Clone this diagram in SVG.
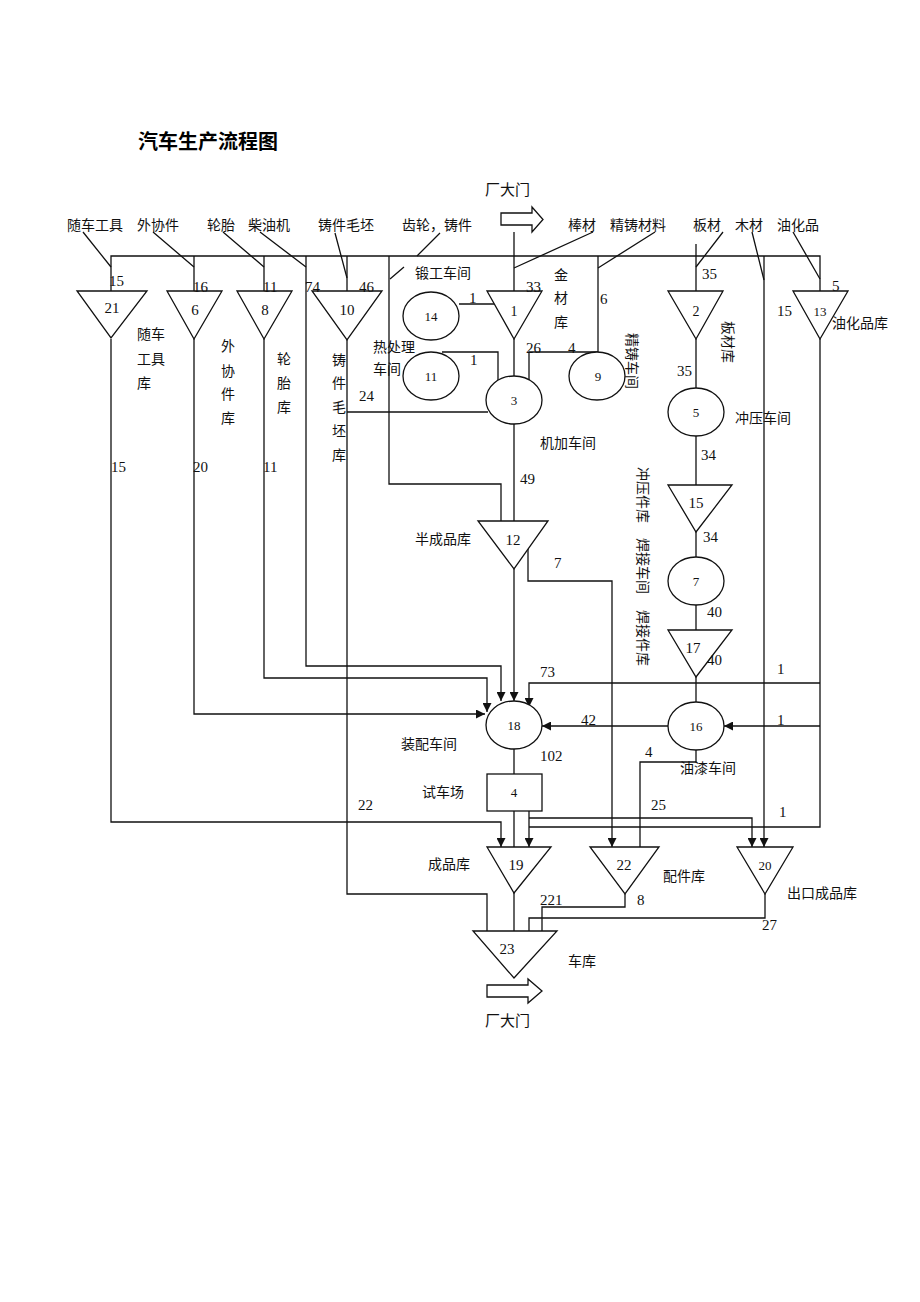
<svg xmlns="http://www.w3.org/2000/svg" width="920" height="1302" viewBox="0 0 920 1302">
<defs>
<style>
.ln{fill:none;stroke:#111;stroke-width:1.3}
.sh{fill:#fff;stroke:#111;stroke-width:1.3}
.t{font-family:"Liberation Serif","Noto Sans CJK SC",serif;font-size:14px;fill:#111}
.n{font-family:"Liberation Serif",serif;font-size:15px;fill:#111}
.c{text-anchor:middle}
.s{font-size:13px}
.title{font-family:"Liberation Serif","Noto Sans CJK SC",serif;font-size:20px;font-weight:bold;fill:#000}
</style>
<marker id="ar" viewBox="0 0 10 10" refX="10" refY="5" markerWidth="9" markerHeight="9" markerUnits="userSpaceOnUse" orient="auto"><path d="M0 0L10 5L0 10z" fill="#111"/></marker>
</defs>
<rect width="920" height="1302" fill="#fff"/>
<text class="title" x="138" y="149">汽车生产流程图</text>

<g id="connectors">
<path class="ln" d="M111 291V256H820V291"/>
<path class="ln" d="M194 256V291M264 256V291M347 256V291M514 232V291M696 244V291"/>
<path class="ln" d="M83 232L111 267M153 232L194 267M223 232L264 267M260 232L306 267M335 233L347 278M440 233L417 256M404 267L390 279M593 232L514 268M655 232L598 268M723 232L696 267M752 232L764 280M793 232L820 279"/>
<path class="ln" d="M111 339V822H501V847" marker-end="url(#ar)"/>
<path class="ln" d="M194 339V714H485" marker-end="url(#ar)"/>
<path class="ln" d="M264 339V678H487V712" marker-end="url(#ar)"/>
<path class="ln" d="M306 256V666H501V701" marker-end="url(#ar)"/>
<path class="ln" d="M347 339V894H487V931"/>
<path class="ln" d="M389 256V484H501V521"/>
<path class="ln" d="M459 304H494"/>
<path class="ln" d="M442 352H498V380"/>
<path class="ln" d="M529 380V352H598"/>
<path class="ln" d="M598 256V352"/>
<path class="ln" d="M347 412H488"/>
<path class="ln" d="M514 339V376M514 424V521"/>
<path class="ln" d="M514 569V701" marker-end="url(#ar)"/>
<path class="ln" d="M528 549V581H612V847" marker-end="url(#ar)"/>
<path class="ln" d="M696 339V388M696 436V485M696 532V557M696 605V630M696 677V702"/>
<path class="ln" d="M764 256V847" marker-end="url(#ar)"/>
<path class="ln" d="M820 339V827H529"/>
<path class="ln" d="M820 683H529V707" marker-end="url(#ar)"/>
<path class="ln" d="M820 726H724" marker-end="url(#ar)"/>
<path class="ln" d="M668 726H542" marker-end="url(#ar)"/>
<path class="ln" d="M696 750V762H640V847"/>
<path class="ln" d="M514 749V774M514 811V847"/>
<path class="ln" d="M529 811V847" marker-end="url(#ar)"/>
<path class="ln" d="M529 818H752V847" marker-end="url(#ar)"/>
<path class="ln" d="M625 894V907H542V931"/>
<path class="ln" d="M765 894V918H529V931"/>
<path class="ln" d="M514 893V931"/>
<path class="sh" d="M501 213H532V207L543 219.5L532 232V225H501Z"/>
<path class="sh" d="M487 985H528V979L542 991L528 1003V997H487Z"/>
</g>

<g id="n21"><polygon class="sh" points="77,291 147,291 111,338"/><text class="n c" x="112" y="313">21</text></g>
<g id="n6"><polygon class="sh" points="167,291 222,291 194,339"/><text class="n c" x="195" y="315">6</text></g>
<g id="n8"><polygon class="sh" points="237,291 292,291 264,339"/><text class="n c" x="265" y="315">8</text></g>
<g id="n10"><polygon class="sh" points="312,291 382,291 347,340"/><text class="n c" x="347" y="315">10</text></g>
<g id="n1"><polygon class="sh" points="487,291 542,291 514,339"/><text class="n c" x="514" y="316" style="font-size:14px">1</text></g>
<g id="n2"><polygon class="sh" points="668,291 723,291 696,339"/><text class="n c" x="696" y="316" style="font-size:14px">2</text></g>
<g id="n13"><polygon class="sh" points="793,291 848,291 820,339"/><text class="n c s" x="820" y="316">13</text></g>
<g id="n14"><ellipse class="sh" cx="431" cy="316" rx="28" ry="24"/><text class="n c s" x="431" y="321">14</text></g>
<g id="n11"><ellipse class="sh" cx="431" cy="376" rx="28" ry="24"/><text class="n c s" x="431" y="381">11</text></g>
<g id="n3"><ellipse class="sh" cx="514" cy="400" rx="28" ry="24"/><text class="n c s" x="514" y="405">3</text></g>
<g id="n9"><ellipse class="sh" cx="597" cy="376" rx="28" ry="24"/><text class="n c s" x="598" y="381">9</text></g>
<g id="n5"><ellipse class="sh" cx="696" cy="412" rx="28" ry="24"/><text class="n c s" x="696" y="417">5</text></g>
<g id="n15"><polygon class="sh" points="668,485 732,485 696,532"/><text class="n c" x="696" y="508">15</text></g>
<g id="n7"><ellipse class="sh" cx="696" cy="581" rx="28" ry="24"/><text class="n c s" x="696" y="586">7</text></g>
<g id="n17"><polygon class="sh" points="668,630 732,630 696,677"/><text class="n c" x="693" y="653">17</text></g>
<g id="n16"><ellipse class="sh" cx="696" cy="726" rx="28" ry="24"/><text class="n c s" x="696" y="731">16</text></g>
<g id="n12"><polygon class="sh" points="478,521 548,521 514,569"/><text class="n c" x="513" y="545">12</text></g>
<g id="n18"><ellipse class="sh" cx="514" cy="725" rx="28" ry="24"/><text class="n c s" x="514" y="730">18</text></g>
<g id="n4"><rect class="sh" x="487" y="774" width="55" height="37"/><text class="n c s" x="514" y="797">4</text></g>
<g id="n19"><polygon class="sh" points="487,847 551,847 514,893"/><text class="n c" x="516" y="870">19</text></g>
<g id="n22"><polygon class="sh" points="590,847 659,847 625,894"/><text class="n c" x="624" y="870">22</text></g>
<g id="n20"><polygon class="sh" points="737,847 793,847 765,894"/><text class="n c s" x="765" y="870">20</text></g>
<g id="n23"><polygon class="sh" points="473,931 557,931 514,978"/><text class="n c" x="507" y="954">23</text></g>

<g id="labels">
<text class="t" x="67" y="230">随车工具</text>
<text class="t" x="137" y="230">外协件</text>
<text class="t" x="207" y="230">轮胎</text>
<text class="t" x="248" y="230">柴油机</text>
<text class="t" x="318" y="230">铸件毛坯</text>
<text class="t" x="402" y="230">齿轮，铸件</text>
<text class="t" x="568" y="230">棒材</text>
<text class="t" x="610" y="230">精铸材料</text>
<text class="t" x="693" y="230">板材</text>
<text class="t" x="735" y="230">木材</text>
<text class="t" x="777" y="230">油化品</text>
<text class="t" x="485" y="195" style="font-size:15px">厂大门</text>
<text class="t" x="485" y="1026" style="font-size:15px">厂大门</text>

<text class="t" x="137" y="339">随车</text>
<text class="t" x="137" y="364">工具</text>
<text class="t" x="137" y="388">库</text>
<text class="t" x="221" y="351">外</text>
<text class="t" x="221" y="376">协</text>
<text class="t" x="221" y="399">件</text>
<text class="t" x="221" y="423">库</text>
<text class="t" x="277" y="364">轮</text>
<text class="t" x="277" y="388">胎</text>
<text class="t" x="277" y="412">库</text>
<text class="t" x="332" y="365">铸</text>
<text class="t" x="332" y="388">件</text>
<text class="t" x="332" y="412">毛</text>
<text class="t" x="332" y="436">坯</text>
<text class="t" x="332" y="460">库</text>
<text class="t" x="415" y="278">锻工车间</text>
<text class="t" x="554" y="280">金</text>
<text class="t" x="554" y="303">材</text>
<text class="t" x="554" y="327">库</text>
<text class="t" x="373" y="352">热处理</text>
<text class="t" x="373" y="374">车间</text>
<text class="t" x="540" y="448">机加车间</text>
<text class="t" x="415" y="544">半成品库</text>
<text class="t" x="735" y="423">冲压车间</text>
<text class="t" x="832" y="328">油化品库</text>
<text class="t" x="401" y="749">装配车间</text>
<text class="t" x="422" y="797">试车场</text>
<text class="t" x="428" y="869">成品库</text>
<text class="t" x="680" y="773">油漆车间</text>
<text class="t" x="663" y="881">配件库</text>
<text class="t" x="787" y="898">出口成品库</text>
<text class="t" x="568" y="966">车库</text>
<text class="t c" transform="translate(632,361) rotate(90)" y="5">精铸车间</text>
<text class="t c" transform="translate(728,342) rotate(90)" y="5">板材库</text>
<text class="t c" transform="translate(643,495) rotate(90)" y="5">冲压件库</text>
<text class="t c" transform="translate(643,566) rotate(90)" y="5">焊接车间</text>
<text class="t c" transform="translate(643,638) rotate(90)" y="5">焊接件库</text>

<text class="n" x="109" y="286">15</text>
<text class="n" x="193" y="292">16</text>
<text class="n" x="263" y="292">11</text>
<text class="n" x="305" y="292">74</text>
<text class="n" x="359" y="292">46</text>
<text class="n" x="526" y="292">33</text>
<text class="n" x="600" y="304">6</text>
<text class="n" x="702" y="279">35</text>
<text class="n" x="832" y="291">5</text>
<text class="n" x="777" y="316">15</text>
<text class="n" x="469" y="303">1</text>
<text class="n" x="470" y="365">1</text>
<text class="n" x="526" y="353">26</text>
<text class="n" x="568" y="353">4</text>
<text class="n" x="359" y="401">24</text>
<text class="n" x="677" y="376">35</text>
<text class="n" x="701" y="460">34</text>
<text class="n" x="703" y="542">34</text>
<text class="n" x="707" y="617">40</text>
<text class="n" x="707" y="665">40</text>
<text class="n" x="777" y="674">1</text>
<text class="n" x="777" y="725">1</text>
<text class="n" x="779" y="817">1</text>
<text class="n" x="520" y="484">49</text>
<text class="n" x="554" y="568">7</text>
<text class="n" x="540" y="677">73</text>
<text class="n" x="581" y="725">42</text>
<text class="n" x="540" y="761">102</text>
<text class="n" x="645" y="757">4</text>
<text class="n" x="358" y="810">22</text>
<text class="n" x="651" y="810">25</text>
<text class="n" x="540" y="905">221</text>
<text class="n" x="637" y="905">8</text>
<text class="n" x="762" y="930">27</text>
<text class="n" x="111" y="472">15</text>
<text class="n" x="193" y="472">20</text>
<text class="n" x="263" y="472">11</text>
</g>
</svg>
